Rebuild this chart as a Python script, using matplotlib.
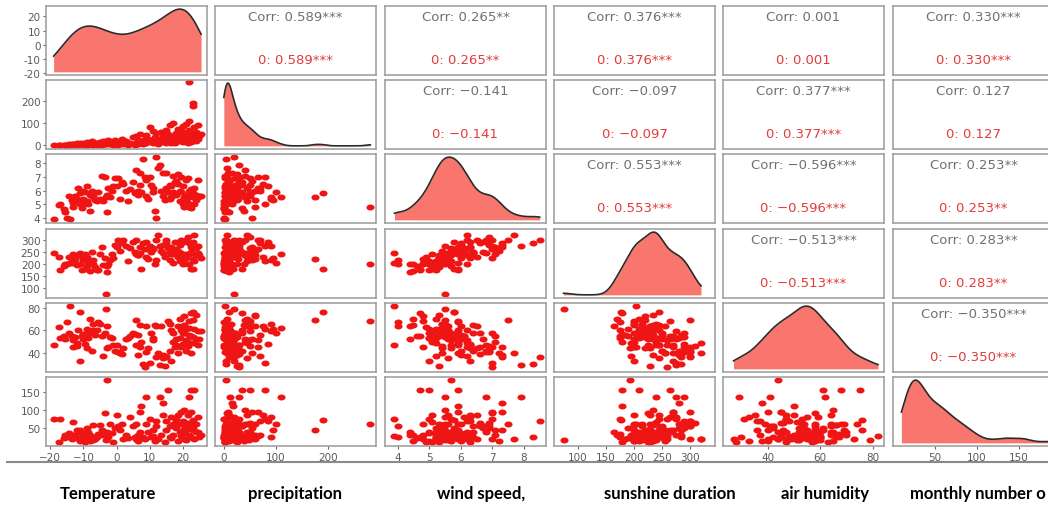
import numpy as np
import matplotlib
matplotlib.use("Agg")
import matplotlib.pyplot as plt
from matplotlib.lines import Line2D

# dados mensais (um valor por observacao, mesma ordem em todas as listas)
temperatura = [-19.0, -17.5, -17.0, -15.5, -15.0, -14.5, -14.0, -13.5, -13.0, -12.5,
               -12.0, -11.5, -11.0, -11.0, -10.5, -10.0, -10.0, -9.5, -9.0, -9.0,
               -8.5, -8.0, -8.0, -7.5, -7.0, -6.5, -6.0, -5.5, -5.0, -4.5,
               -4.0, -3.5, -3.2, -3.0, -2.8, -2.5, -2.0, -1.5, -1.0, -0.5,
               0.0, 0.5, 1.0, 1.5, 2.0, 3.0, 4.0, 5.0, 5.5, 6.0,
               6.0, 6.5, 7.0, 7.0, 7.5, 8.0, 8.5, 9.0, 9.0, 9.5,
               10.0, 10.5, 11.0, 11.5, 12.0, 12.0, 12.5, 13.0, 13.5, 14.0,
               14.0, 14.5, 15.0, 15.0, 15.5, 16.0, 16.0, 16.5, 17.0, 17.0,
               17.5, 18.0, 18.0, 18.5, 19.0, 19.0, 19.5, 20.0, 20.0, 20.5,
               20.5, 21.0, 21.0, 21.5, 21.5, 22.0, 22.0, 22.0, 22.5, 22.5,
               23.0, 23.0, 23.0, 23.5, 23.5, 24.0, 24.0, 24.5, 25.0, 25.5,
               -16.0, -13.0, -7.0, -12.0, -9.5, 16.5, 18.5, 19.5, 20.5, 21.0,
               22.5, 24.5, 6.5, 3.5, 11.0]
precipitacao = [1, 2, 0, 3, 1, 5, 2, 4, 6, 3,
                8, 2, 5, 10, 1, 12, 4, 7, 3, 15,
                2, 9, 6, 20, 4, 11, 8, 3, 14, 2,
                18, 7, 19, 4, 10, 25, 5, 12, 3, 22,
                8, 2, 15, 30, 5, 20, 10, 35, 3, 40,
                12, 25, 8, 50, 18, 5, 30, 45, 12, 28,
                80, 22, 10, 38, 20, 55, 6, 30, 60, 15,
                45, 25, 70, 10, 50, 35, 90, 20, 100, 40,
                8, 55, 30, 75, 45, 20, 65, 15, 85, 40,
                60, 30, 95, 50, 10, 282, 110, 70, 35, 55,
                190, 175, 25, 80, 45, 60, 20, 90, 40, 50,
                0, 1, 3, 6, 2, 12, 25, 35, 22, 48,
                15, 30, 4, 1, 65]
vento = [3.9, 4.9, 5.0, 4.4, 4.0, 5.6, 3.9, 5.3, 5.1, 5.6,
         5.2, 6.2, 5.0, 5.8, 4.7, 6.0, 5.4, 5.9, 5.2, 6.3,
         5.0, 5.7, 4.5, 6.0, 5.5, 5.3, 5.2, 5.9, 5.4, 7.1,
         5.2, 7.0, 5.5, 5.7, 4.4, 6.2, 5.5, 6.0, 6.3, 6.9,
         6.3, 6.9, 5.4, 6.6, 6.5, 6.0, 6.1, 6.6, 5.8, 7.5,
         5.9, 6.0, 7.3, 6.4, 5.9, 8.3, 7.0, 5.6, 6.8, 5.4,
         7.0, 6.4, 5.9, 4.5, 8.5, 4.0, 7.7, 7.9, 6.0, 7.3,
         5.6, 5.3, 6.2, 7.3, 5.9, 6.4, 5.4, 6.3, 5.9, 7.1,
         6.6, 6.7, 5.7, 6.5, 5.2, 6.0, 7.0, 5.0, 6.3, 5.5,
         4.8, 6.8, 5.3, 6.9, 5.1, 4.8, 5.5, 6.0, 4.7, 5.9,
         5.8, 5.5, 5.8, 5.0, 6.2, 5.3, 5.7, 5.5, 5.6, 5.6,
         4.6, 4.8, 5.6, 5.4, 5.1, 5.5, 7.2, 5.9, 5.4, 5.7,
         6.1, 6.8, 5.7, 5.2, 6.2]
insolacao = [245, 230, 175, 200, 200, 230, 205, 210, 240, 220,
             195, 235, 200, 245, 175, 225, 215, 240, 190, 230,
             205, 210, 170, 250, 200, 185, 175, 175, 240, 270,
             195, 225, 75, 193, 165, 200, 215, 240, 225, 280,
             270, 300, 255, 285, 300, 275, 265, 290, 250, 300,
             240, 235, 270, 245, 180, 285, 260, 230, 290, 220,
             275, 250, 265, 200, 300, 215, 320, 275, 255, 280,
             245, 230, 300, 285, 265, 250, 215, 270, 205, 240,
             290, 250, 260, 230, 210, 280, 300, 200, 290, 235,
             220, 300, 225, 310, 200, 200, 240, 285, 180, 270,
             178, 220, 290, 210, 320, 235, 265, 275, 235, 225,
             190, 205, 215, 200, 180, 240, 255, 245, 230, 240,
             250, 245, 235, 210, 260]
umidade = [47, 63, 53, 52, 67, 58, 82, 55, 51, 54,
           49, 60, 33, 76, 55, 52, 57, 48, 61, 44,
           53, 58, 70, 42, 66, 56, 60, 67, 66, 55,
           37, 58, 79, 44, 64, 45, 54, 53, 47, 42,
           47, 41, 40, 39, 44, 52, 55, 58, 57, 69,
           47, 38, 45, 65, 50, 30, 27, 64, 41, 44,
           31, 58, 53, 65, 36, 64, 40, 29, 64, 38,
           35, 28, 37, 36, 68, 42, 66, 33, 58, 50,
           45, 52, 47, 64, 70, 53, 45, 58, 48, 65,
           73, 42, 61, 46, 50, 68, 62, 56, 75, 40,
           76, 69, 54, 61, 49, 74, 52, 59, 52, 59,
           55, 45, 60, 46, 57, 60, 40, 60, 58, 51,
           55, 47, 56, 53, 51]
mensal = [75, 10, 75, 30, 25, 35, 28, 20, 68, 30,
          22, 40, 15, 45, 25, 18, 35, 28, 50, 20,
          38, 15, 30, 25, 58, 20, 24, 33, 58, 45,
          30, 92, 17, 185, 40, 25, 60, 35, 10, 50,
          85, 55, 45, 60, 20, 30, 80, 55, 25, 60,
          20, 15, 95, 40, 110, 25, 20, 60, 135, 40,
          75, 25, 45, 15, 70, 55, 20, 135, 30, 120,
          85, 10, 70, 45, 155, 55, 25, 80, 60, 30,
          65, 50, 75, 85, 40, 60, 95, 35, 70, 100,
          20, 55, 45, 65, 85, 60, 135, 30, 155, 95,
          72, 45, 50, 155, 20, 60, 40, 80, 25, 30,
          22, 32, 18, 45, 12, 22, 15, 28, 48, 18,
          26, 38, 32, 22, 28]

variaveis = [temperatura, precipitacao, vento, insolacao, umidade, mensal]
rotulos = ["Temperature", "precipitation", "wind speed,", "sunshine duration",
           "air humidity", "monthly number o"]
rotulos_x = [60, 248, 437, 604, 781, 910]

# limites e ticks de cada variavel
limites = [(-21.3, 27.3), (-17, 293), (3.6, 8.7), (58, 345), (23, 84.3), (0, 192)]
ticks = [[-20, -10, 0, 10, 20], [0, 100, 200], [4, 5, 6, 7, 8],
         [100, 150, 200, 250, 300], [40, 60, 80], [50, 100, 150]]

# correlacoes (triangulo superior)
correlacoes = {
    (0, 1): "0.589***", (0, 2): "0.265**", (0, 3): "0.376***", (0, 4): "0.001", (0, 5): "0.330***",
    (1, 2): "\u22120.141", (1, 3): "\u22120.097", (1, 4): "0.377***", (1, 5): "0.127",
    (2, 3): "0.553***", (2, 4): "\u22120.596***", (2, 5): "0.253**",
    (3, 4): "\u22120.513***", (3, 5): "0.283**",
    (4, 5): "\u22120.350***",
}

W, H = 1048, 506
col_x = [46, 215, 385, 554, 723, 893]
row_y = [7, 81, 155, 230, 304, 378]
larg, alt = 161, 69

borda = "#9a9a9a"
vermelho_txt = "#e43b3b"

# marcador eliptico (pontos achatados como na imagem)
t = np.linspace(0, 2 * np.pi, 40)
elipse = np.column_stack([1.35 * np.cos(t), np.sin(t)])


def densidade(valores, grade):
    v = np.asarray(valores, dtype=float)
    n = len(v)
    iqr = np.subtract(*np.percentile(v, [75, 25]))
    bw = 0.9 * min(v.std(ddof=1), iqr / 1.34) * n ** (-0.2)
    z = (grade[:, None] - v[None, :]) / bw
    return np.exp(-0.5 * z ** 2).sum(axis=1) / (n * bw * np.sqrt(2 * np.pi))


fig = plt.figure(figsize=(W / 100, H / 100), dpi=100)

for i in range(6):
    for j in range(6):
        ax = fig.add_axes([col_x[j] / W, 1 - (row_y[i] + alt) / H, larg / W, alt / H])
        ax.set_xlim(limites[j])
        ax.set_ylim(limites[i])
        for s in ax.spines.values():
            s.set_color(borda)
            s.set_linewidth(1.1)

        if i == j:
            x = variaveis[j]
            grade = np.linspace(min(x), max(x), 300)
            d = densidade(x, grade)
            lo, hi = limites[i]
            y = lo + (d + 0.05 * d.max()) / (1.1 * d.max()) * (hi - lo)
            base = lo + 0.05 / 1.1 * (hi - lo)
            ax.fill_between(grade, base, y, color="#F8766D", lw=0)
            ax.plot(grade, y, color="#2b2b2b", lw=1.2)
        elif i > j:
            ax.scatter(variaveis[j], variaveis[i], s=34, marker=elipse,
                       color="#f01515", linewidths=0)
        else:
            r = correlacoes[(i, j)]
            ax.text(0.5, 0.855, "Corr: " + r, transform=ax.transAxes, ha="center",
                    va="center", fontsize=9.5, color="#707070", family="DejaVu Sans")
            ax.text(0.5, 0.22, "0: " + r, transform=ax.transAxes, ha="center",
                    va="center", fontsize=9.5, color=vermelho_txt, family="DejaVu Sans")

        ax.tick_params(length=2.5, width=0.8, color="#666666", labelsize=7.5,
                       labelcolor="#5a5a5a", pad=1.5)
        if j == 0:
            ax.set_yticks(ticks[i])
            ax.set_yticklabels([str(v) for v in ticks[i]], family="DejaVu Sans")
        else:
            ax.set_yticks([])
        if i == 5:
            ax.set_xticks(ticks[j])
            ax.set_xticklabels([str(v).replace("-", "\u2212") for v in ticks[j]],
                               family="DejaVu Sans")
        else:
            ax.set_xticks([])

# linha horizontal e nomes das variaveis em baixo
fig.add_artist(Line2D([7 / W, 1], [1 - 463 / H, 1 - 463 / H], color="#8a8a8a", lw=1.5))
for nome, xp in zip(rotulos, rotulos_x):
    fig.text(xp / W, 1 - 494 / H, nome, ha="left", va="center", fontsize=12,
             fontweight="bold", family=["Lato", "DejaVu Sans"])

fig.savefig("out.png", dpi=100)
